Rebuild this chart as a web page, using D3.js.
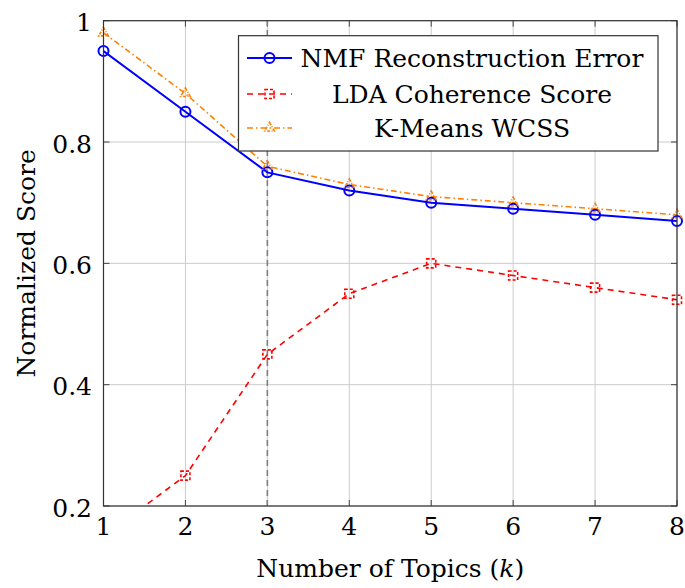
<!DOCTYPE html>
<html>
<head>
<meta charset="utf-8">
<script src="https://cdn.jsdelivr.net/npm/d3@7"></script>
<style>
  body { margin: 0; background: #fff; }
  svg { display: block; }
</style>
</head>
<body>
<svg id="chart" width="685" height="588"></svg>
<script>
const topics = [1, 2, 3, 4, 5, 6, 7, 8];
const nmf = [0.95, 0.85, 0.75, 0.72, 0.70, 0.69, 0.68, 0.67];
const lda = [0.15, 0.25, 0.45, 0.55, 0.60, 0.58, 0.56, 0.54];
const kmeans = [0.98, 0.88, 0.76, 0.73, 0.71, 0.70, 0.69, 0.68];
const yTicks = [0.2, 0.4, 0.6, 0.8, 1];
const chosenK = 3;

const series = [
  { name: "NMF Reconstruction Error", values: nmf, color: "#0000ff", dash: null, width: 2, mark: "circle" },
  { name: "LDA Coherence Score", values: lda, color: "#ff0000", dash: "6,5", width: 1.6, mark: "square" },
  { name: "K-Means WCSS", values: kmeans, color: "#ff8000", dash: "6,3,1.5,3", width: 1.6, mark: "triangle" }
];

const pL = 103.5, pR = 677, pT = 20.7, pB = 506;
const x = d3.scaleLinear([1, 8], [pL, pR]);
const y = d3.scaleLinear([0.2, 1], [pB, pT]);
const serif = "DejaVu Serif";
const fs = 25;

const svg = d3.select("#chart");

svg.append("clipPath").attr("id", "clip")
  .append("rect")
  .attr("x", pL).attr("y", pT)
  .attr("width", pR - pL).attr("height", pB - pT);

// grid
const grid = svg.append("g").attr("stroke", "#cccccc").attr("stroke-width", 1);
grid.selectAll(".gx").data(topics).join("line")
  .attr("x1", d => x(d)).attr("x2", d => x(d))
  .attr("y1", pT).attr("y2", pB);
grid.selectAll(".gy").data(yTicks).join("line")
  .attr("x1", pL).attr("x2", pR)
  .attr("y1", d => y(d)).attr("y2", d => y(d));

// tick marks, inward on all sides
const ticks = svg.append("g").attr("stroke", "#444").attr("stroke-width", 1);
topics.forEach(t => {
  ticks.append("line").attr("x1", x(t)).attr("x2", x(t)).attr("y1", pB).attr("y2", pB - 6);
  ticks.append("line").attr("x1", x(t)).attr("x2", x(t)).attr("y1", pT).attr("y2", pT + 6);
});
yTicks.forEach(t => {
  ticks.append("line").attr("x1", pL).attr("x2", pL + 6).attr("y1", y(t)).attr("y2", y(t));
  ticks.append("line").attr("x1", pR).attr("x2", pR - 6).attr("y1", y(t)).attr("y2", y(t));
});

// vertical marker at chosen k
svg.append("line")
  .attr("x1", x(chosenK)).attr("x2", x(chosenK))
  .attr("y1", pB).attr("y2", pT)
  .attr("stroke", "#808080").attr("stroke-width", 1.6)
  .attr("stroke-dasharray", "6,4");

const line = d3.line().x((d, i) => x(topics[i])).y(d => y(d));

const plot = svg.append("g");
series.forEach(s => {
  plot.append("path")
    .attr("d", line(s.values))
    .attr("clip-path", "url(#clip)")
    .attr("fill", "none")
    .attr("stroke", s.color)
    .attr("stroke-width", s.width)
    .attr("stroke-dasharray", s.dash);
});

function drawMark(g, s, cx, cy) {
  const m = g.append(s.mark === "circle" ? "circle" : "path")
    .attr("fill", "none").attr("stroke", s.color).attr("stroke-width", s.width);
  if (s.mark === "circle") {
    m.attr("cx", cx).attr("cy", cy).attr("r", 5);
  } else if (s.mark === "square") {
    m.attr("d", `M${cx - 4.5},${cy - 4.5}h9v9h-9z`).attr("stroke-dasharray", "3,2");
  } else {
    m.attr("d", `M${cx},${cy - 5.5}L${cx + 4.8},${cy + 3}L${cx - 4.8},${cy + 3}z`).attr("stroke-dasharray", "3,1.5,1,1.5");
  }
}

series.forEach(s => {
  s.values.forEach((v, i) => {
    if (v < 0.2 || v > 1) return;
    drawMark(plot, s, x(topics[i]), y(v));
  });
});

// frame
svg.append("rect")
  .attr("x", pL).attr("y", pT)
  .attr("width", pR - pL).attr("height", pB - pT)
  .attr("fill", "none").attr("stroke", "#333").attr("stroke-width", 1.2);

// tick labels
svg.append("g").selectAll("text").data(topics).join("text")
  .attr("x", d => x(d)).attr("y", 535)
  .attr("text-anchor", "middle")
  .attr("font-family", serif)
  .attr("font-size", fs)
  .text(d => d);
svg.append("g").selectAll("text").data(yTicks).join("text")
  .attr("x", 92).attr("y", d => y(d) + 10.5)
  .attr("text-anchor", "end")
  .attr("font-family", serif)
  .attr("font-size", fs)
  .text(d => d === 1 ? "1" : d.toFixed(1));

// axis labels
svg.append("text")
  .attr("x", (pL + pR) / 2).attr("y", 577)
  .attr("text-anchor", "middle")
  .attr("font-family", serif)
  .attr("font-size", fs)
  .html('Number of Topics (<tspan font-style="italic">k</tspan>)');
svg.append("text")
  .attr("transform", `translate(35,${(pT + pB) / 2}) rotate(-90)`)
  .attr("text-anchor", "middle")
  .attr("font-family", serif)
  .attr("font-size", fs)
  .text("Normalized Score");

// legend
const lg = svg.append("g");
lg.append("rect")
  .attr("x", 238.5).attr("y", 35.7).attr("width", 419.5).attr("height", 115.3)
  .attr("fill", "#fff").attr("stroke", "#333").attr("stroke-width", 1.2);
const rowY = [58, 94, 128];
series.forEach((s, i) => {
  const ly = rowY[i];
  lg.append("line")
    .attr("x1", 247).attr("x2", 292).attr("y1", ly).attr("y2", ly)
    .attr("stroke", s.color).attr("stroke-width", s.width)
    .attr("stroke-dasharray", s.dash);
  drawMark(lg, s, 269.5, ly);
  lg.append("text")
    .attr("x", 472).attr("y", ly + 9)
    .attr("text-anchor", "middle")
    .attr("font-family", serif)
    .attr("font-size", fs)
    .text(s.name);
});
</script>
</body>
</html>
